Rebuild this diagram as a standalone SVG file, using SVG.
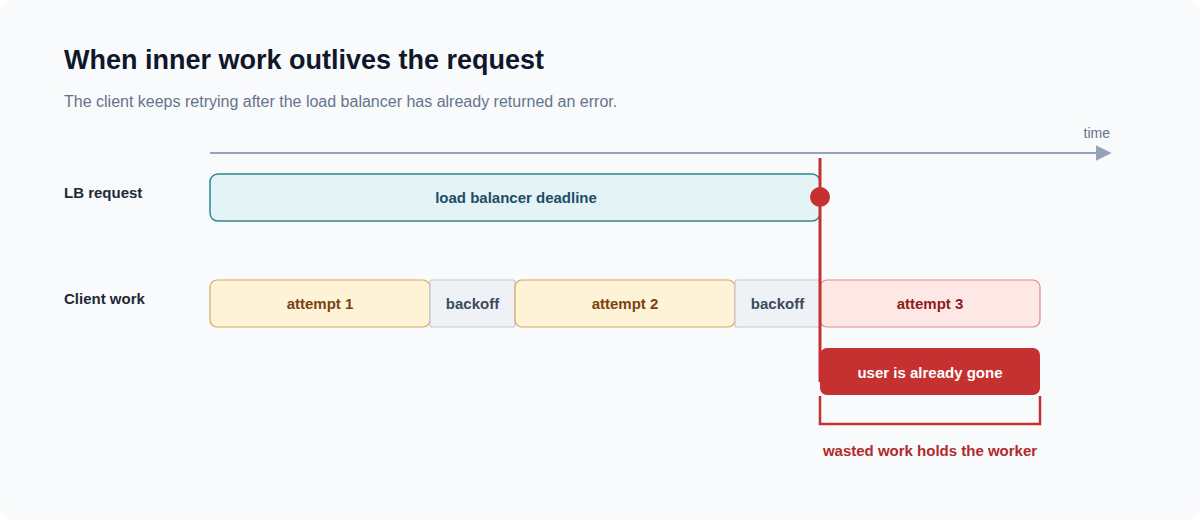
<svg xmlns="http://www.w3.org/2000/svg" width="1200" height="520" viewBox="0 0 1200 520">
<defs>
<style>
text{font-family:"Liberation Sans",Arial,sans-serif}
.lbl{font-size:15px;font-weight:bold;fill:#1f2937}
.bt{font-size:15px;font-weight:bold;text-anchor:middle}
.att{fill:#fef3d6;stroke:#d4a75c;stroke-width:1.2}
.bo{fill:#eef1f5;stroke:#c4c9d2;stroke-width:1.2}
</style>
<marker id="ah" viewBox="0 0 10 10" refX="9" refY="5" markerWidth="16" markerHeight="16" markerUnits="userSpaceOnUse" orient="auto"><path d="M0,0L10,5L0,10z" fill="#94a3b8"/></marker>
</defs>
<rect x="0" y="0" width="1200" height="520" rx="14" fill="#f8fafc"/>
<text x="64" y="69" font-size="27" font-weight="bold" fill="#0f172a">When inner work outlives the request</text>
<text x="64" y="107" font-size="16" fill="#64748b">The client keeps retrying after the load balancer has already returned an error.</text>
<g id="axis">
<line x1="210" y1="153" x2="1110" y2="153" stroke="#94a3b8" stroke-width="2" marker-end="url(#ah)"/>
<text x="1110" y="138" font-size="14" fill="#64748b" text-anchor="end">time</text>
</g>
<text class="lbl" x="64" y="198">LB request</text>
<text class="lbl" x="64" y="304">Client work</text>
<g id="lb"><rect x="210" y="174" width="610" height="47" rx="8" fill="#e4f3f5" stroke="#2a8a8f" stroke-width="1.5"/><text class="bt" x="516" y="203" fill="#1e4d66">load balancer deadline</text></g>
<g id="a1"><rect class="att" x="210" y="280" width="220" height="47" rx="7"/><text class="bt" x="320" y="309" fill="#7a4212">attempt 1</text></g>
<g id="b1"><rect class="bo" x="430" y="280" width="85" height="47" rx="2"/><text class="bt" x="472.5" y="309" fill="#3d4a5c">backoff</text></g>
<g id="a2"><rect class="att" x="515" y="280" width="220" height="47" rx="7"/><text class="bt" x="625" y="309" fill="#7a4212">attempt 2</text></g>
<g id="b2"><rect class="bo" x="735" y="280" width="85" height="47" rx="2"/><text class="bt" x="777.5" y="309" fill="#3d4a5c">backoff</text></g>
<g id="a3"><rect x="820" y="280" width="220" height="47" rx="7" fill="#fde8e6" stroke="#df8a82" stroke-width="1.2"/><text class="bt" x="930" y="309" fill="#8b1d1d">attempt 3</text></g>
<g id="deadline"><line x1="820" y1="158" x2="820" y2="382" stroke="#c53030" stroke-width="3"/><circle cx="820" cy="197" r="10" fill="#c53030"/></g>
<g id="gone"><rect x="820" y="348" width="220" height="47" rx="7" fill="#c53030"/><text class="bt" x="930" y="378" fill="#ffffff">user is already gone</text></g>
<g id="bracket"><path d="M820,396V424H1040V396" fill="none" stroke="#c53030" stroke-width="2.5"/><text x="930" y="456" font-size="15" font-weight="bold" fill="#b02a2a" text-anchor="middle">wasted work holds the worker</text></g>
</svg>
